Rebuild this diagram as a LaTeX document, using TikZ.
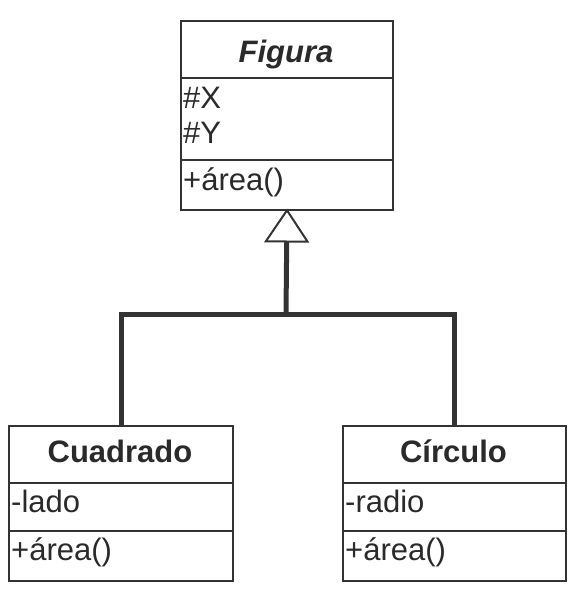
\documentclass[tikz,border=0pt]{standalone}
\usepackage{fontspec}
\setmainfont{Liberation Sans}
\usetikzlibrary{arrows.meta}
\definecolor{ink}{HTML}{2A2A2A}
\definecolor{edge}{HTML}{333333}
\tikzset{
  comp/.style={draw=edge, line width=2pt, fill=white, anchor=north west, inner sep=0pt, minimum width=#1},
  txt/.style={text=ink, inner sep=0pt, anchor=base west, font=\fontsize{31}{37}\selectfont},
  ttl/.style={text=ink, inner sep=0pt, anchor=base, font=\fontsize{31}{37}\selectfont\bfseries},
  conn/.style={draw=edge, line width=5pt},
}
\begin{document}
\begin{tikzpicture}[x=1pt,y=-1pt]
\useasboundingbox (0,0) rectangle (581,614);
% Figura
\node[comp=212pt, minimum height=57pt] (figT) at (180,20) {};
\node[comp=212pt, minimum height=82pt] (figA) at (180,77) {};
\node[comp=212pt, minimum height=50pt] (figO) at (180,159) {};
\node[ttl, font=\fontsize{31}{37}\selectfont\bfseries\itshape] (figTt) at (286,62) {Figura};
\node[txt] (figX) at (183,108) {\#X};
\node[txt] (figY) at (183,143) {\#Y};
\node[txt] (figM) at (183,190) {+área()};
% Cuadrado
\node[comp=224pt, minimum height=57pt] (cuaT) at (8,425) {};
\node[comp=224pt, minimum height=48pt] (cuaA) at (8,482) {};
\node[comp=224pt, minimum height=50pt] (cuaO) at (8,530) {};
\node[ttl] (cuaTt) at (120,462) {Cuadrado};
\node[txt] (cuaL) at (11,512) {-lado};
\node[txt] (cuaM) at (11,560) {+área()};
% Circulo
\node[comp=223pt, minimum height=57pt] (cirT) at (342,425) {};
\node[comp=223pt, minimum height=48pt] (cirA) at (342,482) {};
\node[comp=223pt, minimum height=50pt] (cirO) at (342,530) {};
\node[ttl] (cirTt) at (453.5,462) {Círculo};
\node[txt] (cirR) at (345,512) {-radio};
\node[txt] (cirM) at (345,560) {+área()};
% connectors
\coordinate (j) at (286,314);
\draw[conn] (cuaT.north) |- (j) -| (cirT.north);
\draw[conn, shorten >=-2.5pt, -{Triangle[length=34pt, width=45pt, fill=white, line width=2pt]}] (j) -- (figO.south);
\end{tikzpicture}
\end{document}
